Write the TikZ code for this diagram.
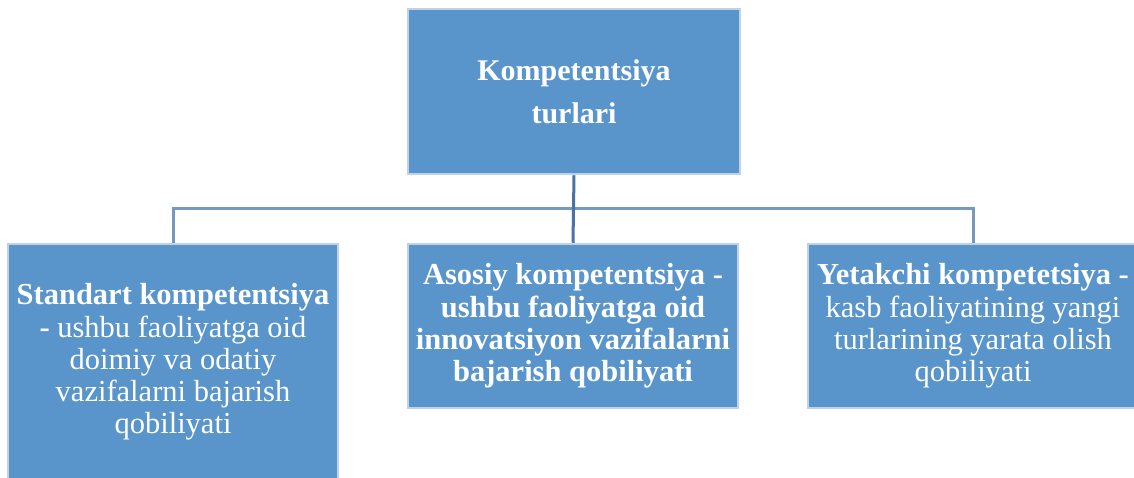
\documentclass[tikz,border=0pt]{standalone}
\usepackage{fontspec}
\setmainfont{Liberation Serif}
\definecolor{boxfill}{RGB}{89,149,203}
\definecolor{boxedge}{RGB}{190,211,234}
\definecolor{hline}{RGB}{118,153,190}
\definecolor{vline}{RGB}{72,115,163}
\begin{document}
\begin{tikzpicture}[x=1pt,y=1pt,
  box/.style={rectangle, fill=boxfill, draw=boxedge, line width=2.5pt, inner sep=0pt,
    text=white, align=center, minimum width=330pt},
  lowtext/.style={font=\fontsize{30.5}{32.2}\selectfont},
  conn/.style={draw=hline, line width=3pt},
  trunk/.style={draw=vline, line width=3pt}]
\useasboundingbox (0,0) rectangle (1134,-477);
\node[box, minimum height=165pt, minimum width=332pt, font=\fontsize{30}{43}\selectfont] (top) at (574,-91.5)
  {\textbf{Kompetentsiya}\\\textbf{turlari}};
\node[box, minimum height=236pt, lowtext] (left) at (173,-362)
  {\textbf{Standart kompetentsiya}\\\textbf{-} ushbu faoliyatga oid\\doimiy va odatiy\\vazifalarni bajarish\\qobiliyati};
\node[box, minimum height=164pt, lowtext] (mid) at (573,-326)
  {\textbf{Asosiy kompetentsiya -}\\\textbf{ushbu faoliyatga oid}\\\textbf{innovatsiyon vazifalarni}\\\textbf{bajarish qobiliyati}};
\node[box, minimum height=164pt, lowtext] (right) at (973,-326)
  {\textbf{Yetakchi kompetetsiya -}\\kasb faoliyatining yangi\\turlarining yarata olish\\qobiliyati};
\coordinate (lt) at (173,-208);
\draw[conn] (left.north) -- (lt) -| (right.north);
\draw[trunk] (top.south) -- (mid.north);
\end{tikzpicture}
\end{document}
